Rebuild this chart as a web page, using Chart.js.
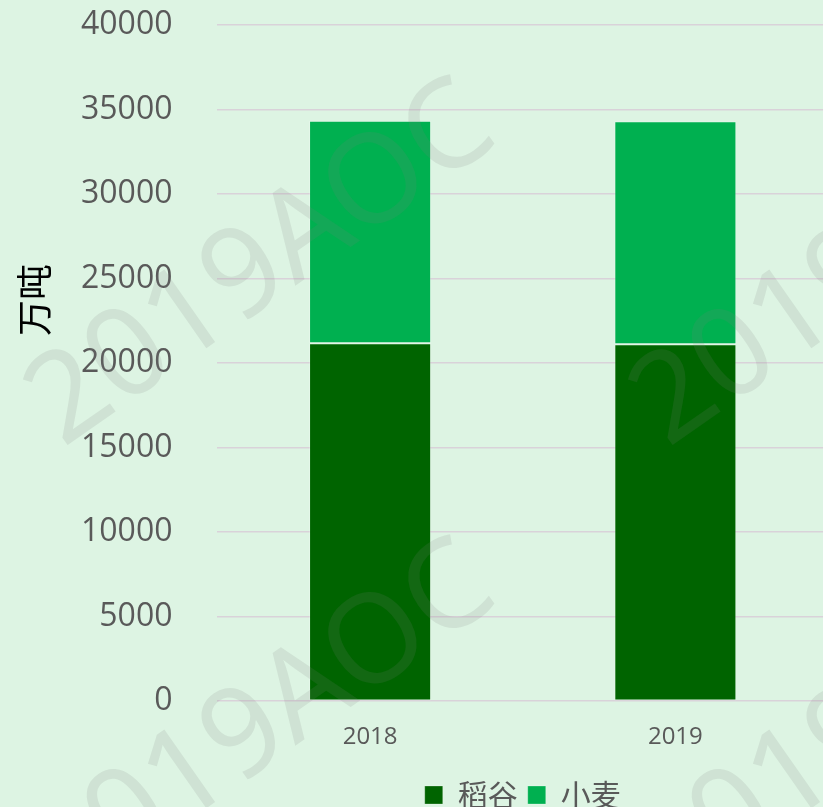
<!doctype html>
<html lang="zh">
<head>
<meta charset="utf-8" />
<title>稻谷 小麦</title>
<style>
  html, body { margin: 0; padding: 0; background: #ddf4e3; }
  #wrap { width: 823px; height: 807px; overflow: hidden; }
</style>
</head>
<body>
<div id="wrap"><canvas id="myChart" width="828" height="820"></canvas></div>
<script src="https://cdn.jsdelivr.net/npm/chart.js@4/dist/chart.umd.min.js"></script>
<script>
// data (万吨)
var years = ['2018', '2019'];
var rice = [21170, 21110];   // 稻谷
var wheat = [13160, 13200];  // 小麦
var yTicks = [0, 5000, 10000, 15000, 20000, 25000, 30000, 35000, 40000];
var yTitle = '万吨';
var mark = '2019AOC';

var grey = '#595959';

// y title sits a bit above the middle, so draw it by hand
var titlePlugin = {
  id: 'ytitle',
  afterDraw: function (chart) {
    var ctx = chart.ctx;
    ctx.save();
    ctx.translate(34, 300);
    ctx.rotate(-Math.PI / 2);
    ctx.font = '36px "Noto Sans CJK SC"';
    ctx.fillStyle = '#000';
    ctx.textAlign = 'center';
    ctx.textBaseline = 'middle';
    ctx.fillText(yTitle, 0, 0);
    ctx.restore();
  }
};

// repeated watermark over everything
var markPlugin = {
  id: 'mark',
  afterDraw: function (chart) {
    var ctx = chart.ctx;
    ctx.save();
    ctx.font = '124px "Noto Sans"';
    ctx.fillStyle = 'rgba(128,128,128,0.15)';
    ctx.textAlign = 'center';
    ctx.textBaseline = 'middle';
    for (var i = 0; i < 2; i++) {
      for (var j = 0; j < 2; j++) {
        ctx.save();
        ctx.translate(262 + 605 * i, 266 + 460 * j);
        ctx.rotate(-35 * Math.PI / 180);
        ctx.fillText(mark, 0, 0);
        ctx.restore();
      }
    }
    ctx.restore();
  }
};

const ctx = document.getElementById('myChart');
const myChart = new Chart(ctx, {
  type: 'bar',
  data: {
    labels: years,
    datasets: [{
      label: '稻谷',
      data: rice,
      backgroundColor: '#006400',
      borderColor: 'rgba(255,255,255,0.25)',
      borderWidth: 1,
      borderSkipped: false
    }, {
      label: '小麦',
      data: wheat,
      backgroundColor: '#00b050',
      borderColor: 'rgba(255,255,255,0.25)',
      borderWidth: 1,
      borderSkipped: false
    }]
  },
  options: {
    responsive: false,
    animation: false,
    barPercentage: 0.4,
    categoryPercentage: 1,
    layout: { padding: { left: 36, top: 25, right: 0, bottom: 0 } },
    plugins: {
      tooltip: { enabled: false },
      legend: {
        position: 'bottom',
        fullSize: false,
        labels: {
          color: grey,
          font: { family: '"Noto Sans CJK SC"', size: 30 },
          boxWidth: 18,
          boxHeight: 18,
          padding: 10
        }
      }
    },
    scales: {
      x: {
        stacked: true,
        grid: { display: false, drawTicks: false },
        border: { display: false },
        ticks: { color: grey, font: { family: '"Open Sans"', size: 24 }, padding: 22 },
        afterFit: function (s) { s.height -= 4; s.paddingLeft = 0; s.paddingRight = 0; }
      },
      y: {
        stacked: true,
        min: yTicks[0],
        max: yTicks[yTicks.length - 1],
        afterBuildTicks: function (s) { s.ticks = yTicks.map(function (v) { return { value: v }; }); },
        afterFit: function (s) { s.paddingTop = 0; s.paddingBottom = 0; },
        grid: { color: '#d9d2d9', lineWidth: 1.5, drawTicks: false },
        border: { display: false },
        ticks: {
          color: grey,
          font: { family: '"Open Sans"', size: 32 },
          padding: 45,
          callback: function (v) { return String(v); }
        }
      }
    }
  },
  plugins: [titlePlugin, markPlugin]
});
</script>
</body>
</html>
